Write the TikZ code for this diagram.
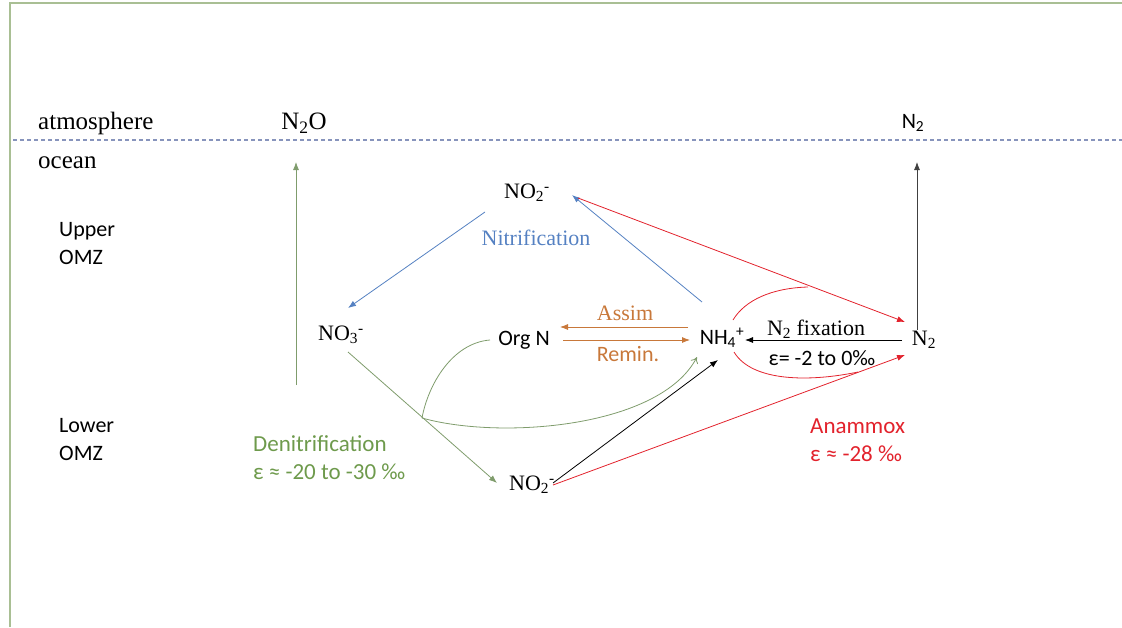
\documentclass[tikz,border=0pt]{standalone}
\usepackage{fontspec}
\setmainfont{Liberation Serif}
\newfontfamily\carlito{Carlito}
\usetikzlibrary{arrows.meta}
\definecolor{frameg}{HTML}{A9BF94}
\definecolor{dashc}{HTML}{8794BC}
\definecolor{grn}{HTML}{6E9A4C}
\definecolor{grnl}{HTML}{7F9C6C}
\definecolor{blu}{HTML}{5581C2}
\definecolor{org}{HTML}{C8783A}
\definecolor{rd}{HTML}{E2222C}
\tikzset{
  ser/.style={inner sep=0pt, font=\fontsize{22}{26}\selectfont},
  big/.style={inner sep=0pt, font=\fontsize{25}{28}\selectfont},
  sans/.style={inner sep=0pt, font=\carlito\fontsize{22}{28}\selectfont},
  sansbig/.style={inner sep=0pt, font=\carlito\fontsize{23}{28}\selectfont},
  conn/.style={line width=0.8pt, -{Latex[length=8pt,width=6pt]}},
  plain/.style={line width=0.8pt},
}
\begin{document}
\begin{tikzpicture}[x=1pt,y=-1pt]
\useasboundingbox (0,0) rectangle (1122,627);
% frame
\draw[frameg, line width=1.2pt] (10,627) -- (10,3) -- (1122,3);
\draw[dashc, line width=1.2pt, dash pattern=on 4pt off 3pt] (13,140) -- (1122,140);
% labels
\node[big, anchor=west] (atm) at (38,123) {atmosphere};
\node[big, anchor=west] (ocean) at (38,163) {ocean};
\node[big] (n2o) at (304,123) {N\textsubscript{2}O};
\node[sans] (n2top) at (913,123) {N\textsubscript{2}};
\node[sans, anchor=west, align=left] (upper) at (59,244) {Upper\\OMZ};
\node[sans, anchor=west, align=left] (lower) at (59,440) {Lower\\OMZ};
% species
\node[ser] (no2t) at (527,193) {NO\textsubscript{2}\textsuperscript{-}};
\node[ser, text=blu] (nitr) at (536,238) {Nitrification};
\node[ser] (no3) at (341,335) {NO\textsubscript{3}\textsuperscript{-}};
\node[sans] (orgn) at (524,340) {Org N};
\node[sans] (nh4) at (722,338) {NH\textsubscript{4}\textsuperscript{+}};
\node[ser] (n2r) at (924,340) {N\textsubscript{2}};
\node[ser] (no2b) at (532,485) {NO\textsubscript{2}\textsuperscript{-}};
\node[ser, text=org] (assim) at (625,313) {Assim};
\node[sans, text=org] (remin) at (628,354) {Remin.};
\node[ser] (fix) at (816,329) {N\textsubscript{2} fixation};
\node[sans] (eps) at (822,358) {ε= -2 to 0‰};
\node[sansbig, text=grn, anchor=west, align=left] (denit) at (253,458) {Denitrification\\ε ≈ -20 to -30 ‰};
\node[sansbig, text=rd, anchor=west, align=left] (anam) at (810,440) {Anammox\\ε ≈ -28 ‰};
% junction points
\coordinate (n2ofoot) at (296,385);
\coordinate (jg) at (422,418);
\coordinate (jrt) at (808,287);
\coordinate (jrb) at (858,372);
% vertical fluxes
\draw[conn, grnl] (n2ofoot) -- ([shift={(-8,39)}]n2o.center);
\draw[conn, black!75] ([shift={(-7,-10)}]n2r.center) -- ([shift={(4,39)}]n2top.center);
% nitrification
\draw[conn, blu] ([shift={(-42,19)}]no2t.center) -- ([shift={(7,-27)}]no3.center);
\draw[conn, blu] ([shift={(-20,-36)}]nh4.center) -- ([shift={(45,2)}]no2t.center);
% anammox
\draw[conn, rd] ([shift={(51,5)}]no2t.center) -- ([shift={(-19,-18)}]n2r.center);
\draw[plain, rd] ([shift={(11,-18)}]nh4.center) .. controls (745,300) and (772,288) .. (jrt);
\draw[conn, rd] ([shift={(21,0)}]no2b.center) -- ([shift={(-19,15)}]n2r.center);
\draw[plain, rd] ([shift={(12,14)}]nh4.center) .. controls (752,382) and (810,382) .. (jrb);
% black no2 -> nh4
\draw[conn, black] ([shift={(21,-2)}]no2b.center) -- ([shift={(-4,22)}]nh4.center);
% denitrification
\draw[conn, grnl] ([shift={(7,17)}]no3.center) -- ([shift={(-35,-2)}]no2b.center);
\draw[plain, grnl] ([shift={(-34,0)}]orgn.center) .. controls (452,343) and (428,385) .. (jg);
\draw[line width=0.8pt, grnl, -{To[length=6pt,width=8pt]}] (jg) .. controls (500,440) and (660,428) .. ([shift={(-25,19)}]nh4.center);
% assim / remin
\draw[conn, org] ([shift={(-34,-11)}]nh4.center) -- ([shift={(36,-13)}]orgn.center);
\draw[conn, org] ([shift={(39,0)}]orgn.center) -- ([shift={(-32,2)}]nh4.center);
% N2 fixation
\draw[conn, black] ([shift={(-22,0)}]n2r.center) -- ([shift={(23,2)}]nh4.center);
\end{tikzpicture}
\end{document}
